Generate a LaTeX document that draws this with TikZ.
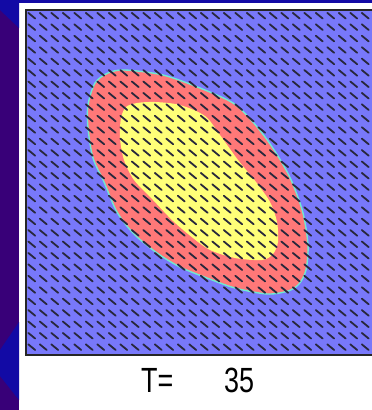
\documentclass[tikz,border=0pt]{standalone}
\usepackage{fontspec}
\newfontfamily\tfont[FakeStretch=0.77]{Liberation Sans}
\definecolor{slidepurple}{RGB}{56,0,120}
\definecolor{slideblue}{RGB}{18,10,165}
\definecolor{panelblue}{RGB}{120,120,250}
\definecolor{ringred}{RGB}{255,120,120}
\definecolor{coreyellow}{RGB}{255,255,120}
\definecolor{rimcyan}{RGB}{110,235,210}
\definecolor{dashgray}{RGB}{40,40,60}
\tikzset{
  dashmark/.style={draw=dashgray,line width=1.8pt,line cap=round},
  label/.style={font=\tfont\fontsize{35}{35}\selectfont,inner sep=0pt}
}
\begin{document}
\begin{tikzpicture}[x=1pt,y=-1pt]
\useasboundingbox (0,0) rectangle (372,410);
\clip (0,0) rectangle (372,410);
% slide background
\fill[white] (0,0) rectangle (372,410);
\fill[slidepurple] (0,0) rectangle (19,410);
\fill[slideblue] (0,0) rectangle (372,3);
\fill[slideblue] (0,0) -- (19,0) -- (19,28) -- (0,10) -- cycle;
\fill[slideblue] (19,322) -- (0,350) -- (0,376) -- (19,400) -- cycle;
% panel
\fill[panelblue] (26,10) rectangle (374,355);
% red ring
\fill[ringred, draw=rimcyan, line width=1.4pt] plot[smooth cycle] coordinates {
 (88,105) (95,83) (108,73) (125,70) (163,75) (200,88) (233,103) (252,121)
 (268,141) (281,161) (292,182) (303,213) (308,245) (306,270) (299,284)
 (288,291) (267,294) (235,288) (207,278) (180,267) (157,253) (134,234)
 (117,212) (104,182) (93,158) (88,128)};
% yellow core
\fill[coreyellow] plot[smooth cycle] coordinates {
 (121,118) (126,107) (137,103) (155,102) (180,105) (205,116) (220,135)
 (238,160) (256,182) (270,202) (277,222) (278,242) (273,254) (262,260)
 (235,258) (210,250) (193,238) (173,221) (153,200) (134,180) (124,160)
 (120,138)};
% field dashes
\foreach \i in {0,...,29}{
  \foreach \j in {0,...,29}{
    \pgfmathsetmacro{\cx}{31.75+11.5*\i}
    \pgfmathsetmacro{\cy}{15.7+11.43*\j}
    \draw[dashmark] (\cx-3.4,\cy-2.8) -- (\cx+3.4,\cy+2.8);
  }
}
% panel frame
\draw[black!85,line width=2pt] (374,10) -- (26,10) -- (26,355) -- (374,355);
% time label
\node[label,anchor=base west] (tlab) at (141,392) {T=};
\node[label,anchor=base west] (tval) at (224,392) {35};
\end{tikzpicture}
\end{document}
